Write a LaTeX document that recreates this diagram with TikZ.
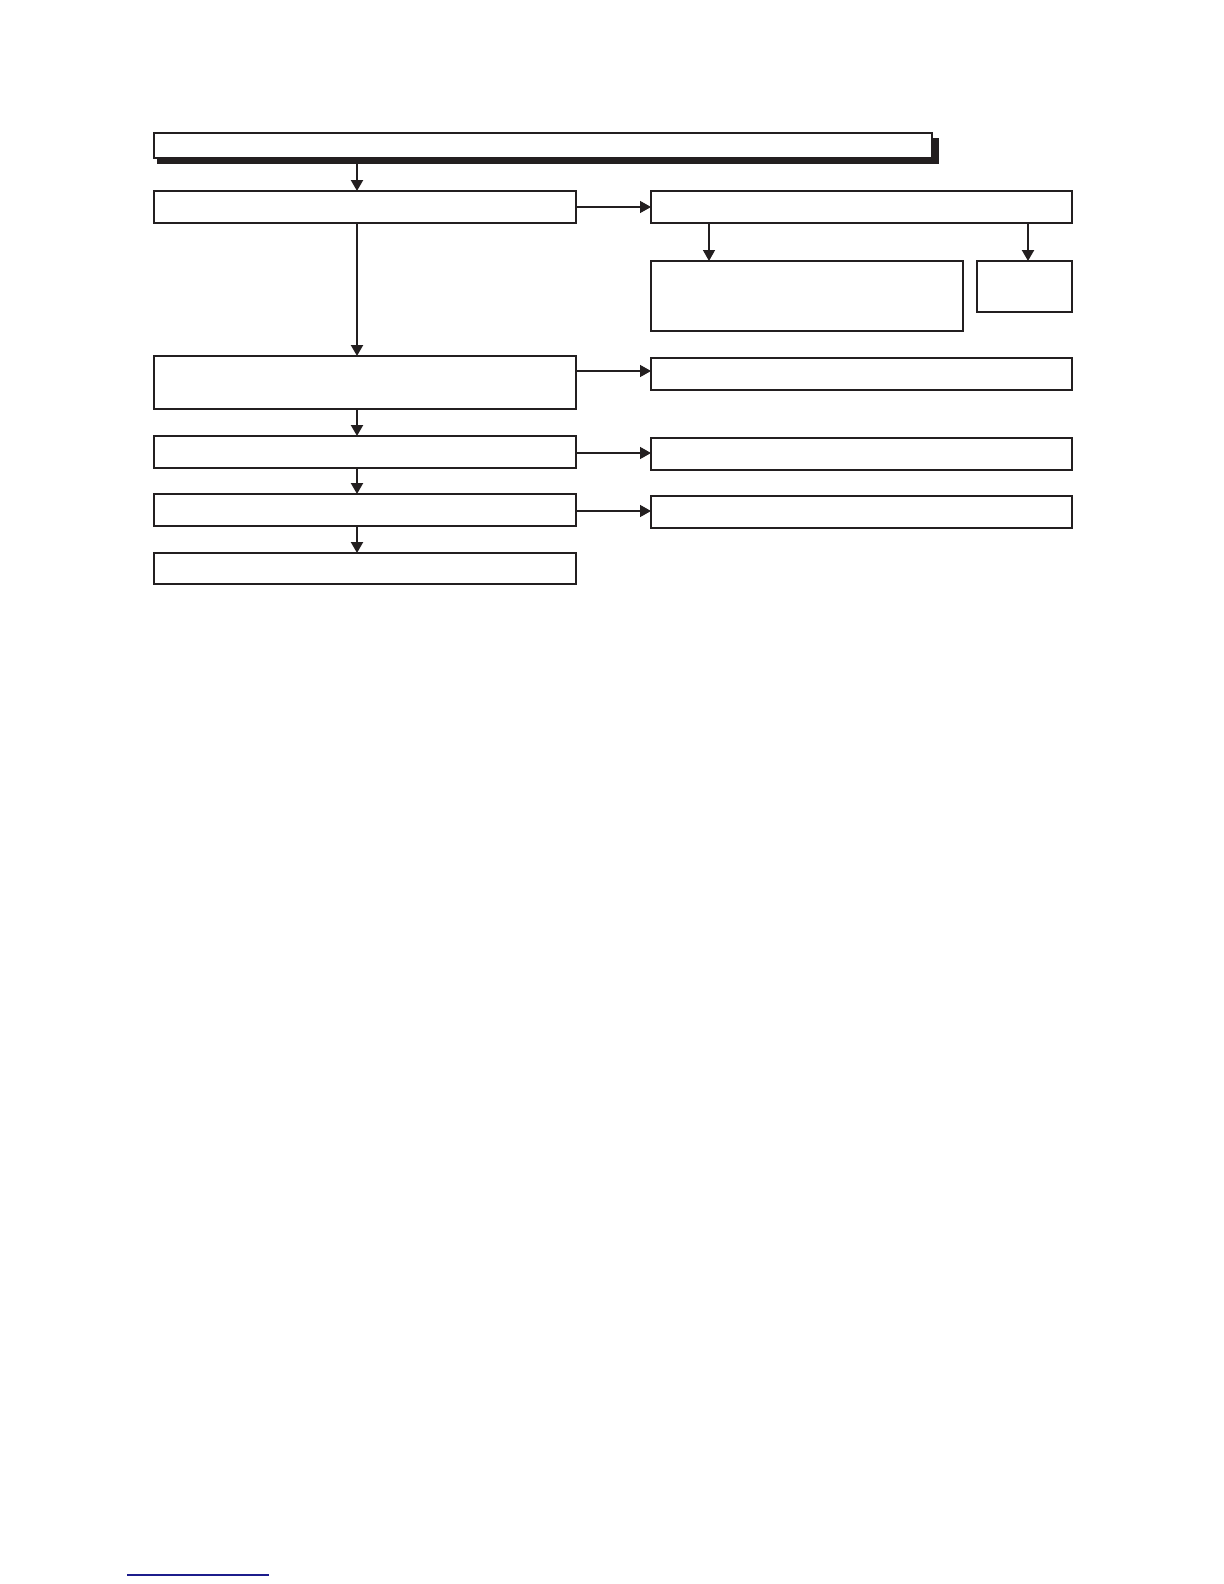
\documentclass[tikz,border=0pt]{standalone}
\usetikzlibrary{arrows.meta}
\definecolor{ink}{HTML}{231F20}
\definecolor{linkblue}{HTML}{1C1C8C}
\begin{document}
\begin{tikzpicture}[x=0.5pt,y=-0.5pt,
  box/.style={draw=ink,line width=0.6pt,fill=white,rectangle,inner sep=0pt,outer sep=0pt,anchor=north west},
  boxthick/.style={box,line width=1.0pt},
  arr/.style={draw=ink,line width=1.1pt,-{Triangle[length=5.5pt,width=6pt]}},
  arrthin/.style={draw=ink,line width=0.7pt,-{Triangle[length=5.5pt,width=6pt]}}]
\useasboundingbox (0,0) rectangle (1224,1584);
% shadow of the title box
\fill[ink] (157,138) rectangle (939,164);
\node[box,minimum width=389pt,minimum height=12.5pt] (T) at (154,133) {};
\node[boxthick,minimum width=211pt,minimum height=16pt] (B2) at (154,191) {};
\node[box,minimum width=211pt,minimum height=26.5pt] (B3) at (154,356) {};
\node[box,minimum width=211pt,minimum height=16pt] (B4) at (154,436) {};
\node[box,minimum width=211pt,minimum height=16pt] (B5) at (154,494) {};
\node[box,minimum width=211pt,minimum height=15.5pt] (B6) at (154,553) {};
\node[box,minimum width=210.5pt,minimum height=16pt] (R1) at (651,191) {};
\node[box,minimum width=156pt,minimum height=35pt] (R2) at (651,261) {};
\node[box,minimum width=47.5pt,minimum height=25.5pt] (R3) at (977,261) {};
\node[box,minimum width=210.5pt,minimum height=16pt] (R4) at (651,358) {};
\node[box,minimum width=210.5pt,minimum height=16pt] (R5) at (651,438) {};
\node[box,minimum width=210.5pt,minimum height=16pt] (R6) at (651,496) {};
% vertical connectors
\draw[arr] (357,164) -- (B2.north -| 357,0);
\draw[arr] (B2.south -| 357,0) -- (B3.north -| 357,0);
\draw[arr] (B3.south -| 357,0) -- (B4.north -| 357,0);
\draw[arr] (B4.south -| 357,0) -- (B5.north -| 357,0);
\draw[arr] (B5.south -| 357,0) -- (B6.north -| 357,0);
\draw[arrthin] (R1.south -| 709,0) -- (R2.north -| 709,0);
\draw[arr] (R1.south -| 1028,0) -- (R3.north -| 1028,0);
% horizontal connectors
\draw[arrthin] (B2.east) -- (R1.west);
\draw[arrthin] (B3.east |- 0,371) -- (R4.west |- 0,371);
\draw[arrthin] (B4.east |- 0,453) -- (R5.west |- 0,453);
\draw[arrthin] (B5.east |- 0,511) -- (R6.west |- 0,511);
% blue rule at the foot
\draw[linkblue,line width=0.8pt] (127,1575) -- (269,1575);
\end{tikzpicture}
\end{document}
